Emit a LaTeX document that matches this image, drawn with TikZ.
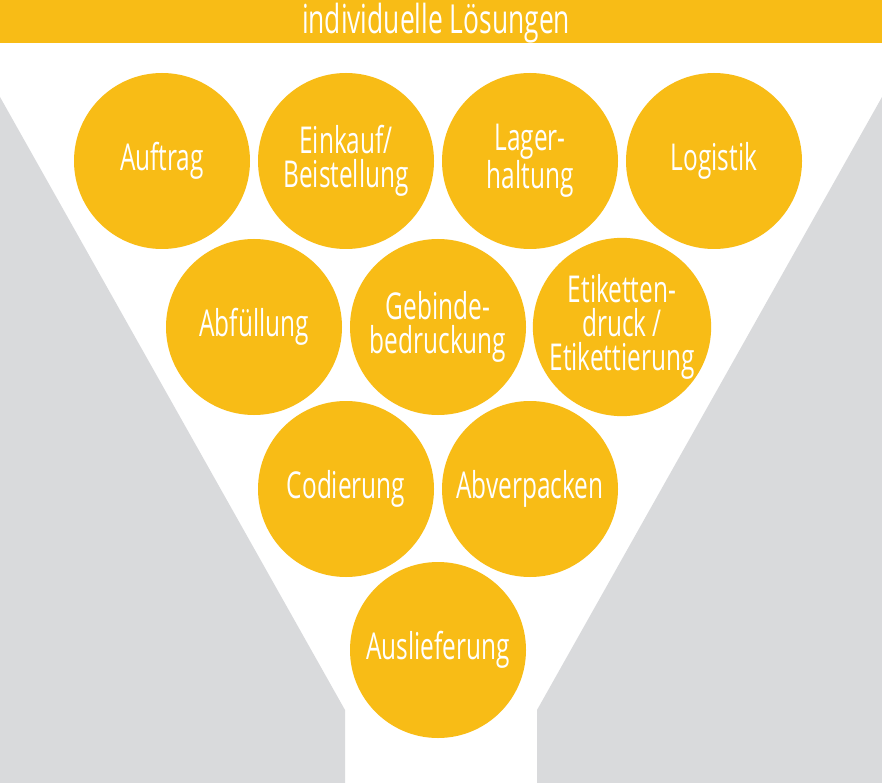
\documentclass[tikz,border=0pt]{standalone}
\usepackage{fontspec}
\setmainfont{Open Sans}[FakeStretch=0.66]
\definecolor{gold}{HTML}{F8BC16}
\definecolor{greyfunnel}{HTML}{D9DADC}
\begin{document}
\begin{tikzpicture}[x=1pt,y=-1pt,
  bubble/.style={circle,fill=gold,minimum size=176pt,inner sep=0pt,
    text=white,align=center,font=\fontsize{37}{34}\selectfont},
  ]
\useasboundingbox (0,0) rectangle (882,783);
\fill[white] (0,0) rectangle (882,783);
% funnel sides
\fill[greyfunnel] (0,97) -- (345,710) -- (345,783) -- (0,783) -- cycle;
\fill[greyfunnel] (882,97) -- (537,710) -- (537,783) -- (882,783) -- cycle;
% top bar
\fill[gold] (0,0) rectangle (882,43);
\node[text=white,font=\fontsize{40}{40}\selectfont,inner sep=0pt] (title) at (436,23) {individuelle Lösungen};
% row 1
\node[bubble] (auftrag) at (162,161) {Auftrag};
\node[bubble] (einkauf) at (346,161) {Einkauf/\\Beistellung};
\node[bubble] (lager) at (530,161) {Lager-\\haltung};
\node[bubble] (logistik) at (714,161) {Logistik};
% row 2
\node[bubble] (abfuellung) at (254,327) {Abfüllung};
\node[bubble] (gebinde) at (438,327) {Gebinde-\\bedruckung};
\node[bubble] (etiketten) at (622,327) {Etiketten-\\druck /\\Etikettierung};
% row 3
\node[bubble] (codierung) at (346,489) {Codierung};
\node[bubble] (abverpacken) at (530,489) {Abverpacken};
% row 4
\node[bubble] (auslieferung) at (438,650) {Auslieferung};
\end{tikzpicture}
\end{document}
